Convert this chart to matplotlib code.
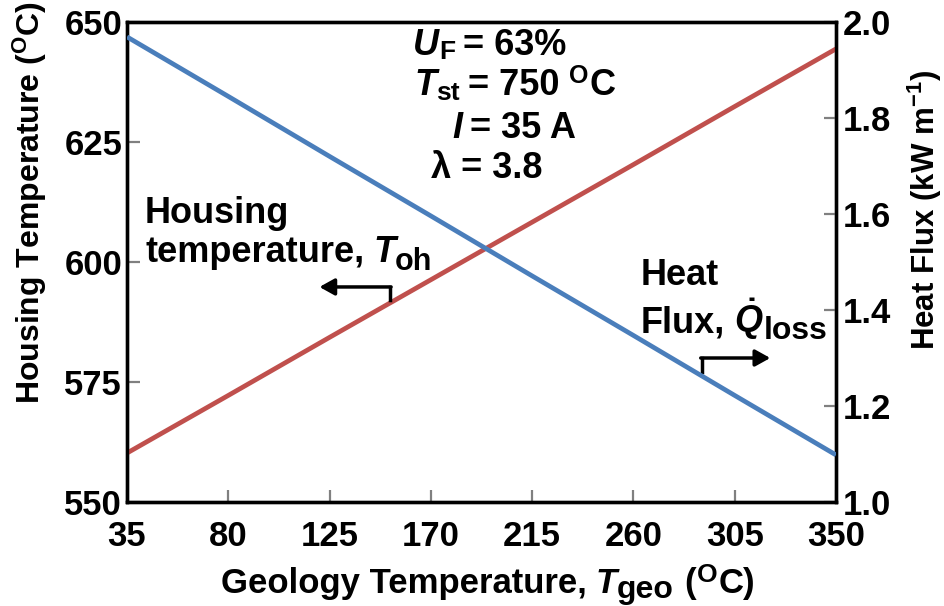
import matplotlib
matplotlib.use("Agg")
import matplotlib.pyplot as plt
from matplotlib.transforms import Affine2D

plt.rcParams['font.family'] = ['Liberation Sans', 'DejaVu Sans']
plt.rcParams['font.weight'] = 'bold'
plt.rcParams['mathtext.fontset'] = 'custom'
plt.rcParams['mathtext.rm'] = 'Liberation Sans:bold'
plt.rcParams['mathtext.it'] = 'Liberation Sans:bold:italic'
plt.rcParams['mathtext.bf'] = 'Liberation Sans:bold'

# Geology temperature (°C)
geo_temp = [35, 80, 125, 170, 215, 260, 305, 350]
# Housing temperature T_oh (°C), left axis
housing_temp = [560.2, 572.2, 584.3, 596.3, 608.3, 620.3, 632.4, 644.4]
# Heat flux Q_loss (kW m^-1), right axis
heat_flux = [1.969, 1.845, 1.720, 1.596, 1.471, 1.347, 1.222, 1.098]

x_ticks = [35, 80, 125, 170, 215, 260, 305, 350]
left_ticks = [550, 575, 600, 625, 650]
right_ticks = [1.0, 1.2, 1.4, 1.6, 1.8, 2.0]

RED = '#C0504D'
BLUE = '#4A7EBB'
W, H = 945, 606
FS_TICK = 25
FS_LAB = 25
FS_TXT = 26
FS_SUB = 22

fig = plt.figure(figsize=(W / 100, H / 100), dpi=100)
ax = fig.add_axes([127 / W, 1 - 502 / H, 709 / W, 480 / H])
ax2 = ax.twinx()

ax.plot(geo_temp, housing_temp, color=RED, lw=3.4, solid_capstyle='butt', zorder=3)
ax2.plot(geo_temp, heat_flux, color=BLUE, lw=3.4, solid_capstyle='butt', zorder=3)

ax.set_xlim(35, 350)
ax.set_ylim(550, 650)
ax2.set_ylim(1.0, 2.0)
ax.set_xticks(x_ticks)
ax.set_yticks(left_ticks)
ax2.set_yticks(right_ticks)
ax2.set_yticklabels([f"{v:.1f}" for v in right_ticks])

for a in (ax, ax2):
    for s in a.spines.values():
        s.set_linewidth(2.4)
        s.set_color('black')
    a.tick_params(direction='in', length=9, width=1.6, color='#808080',
                  labelsize=FS_TICK, pad=3.5)
ax.tick_params(axis='x', pad=13)
ax.tick_params(top=False, right=False)
ax2.tick_params(left=False, pad=5)
for lab in ax.get_xticklabels() + ax.get_yticklabels() + ax2.get_yticklabels():
    lab.set_fontweight('bold')

# pixel coordinates measured from the top-left corner of the figure
PX = Affine2D().scale(1, -1).translate(0, H)
renderer = fig.canvas.get_renderer()


def rich(x, y, parts, ha='left'):
    """Draw a run of text pieces on one baseline.
    Each piece: (text, size, style, drop_px, gap_px_after)."""
    items = []
    for p in parts:
        s, size = p[0], p[1]
        style = p[2] if len(p) > 2 else 'normal'
        dy = p[3] if len(p) > 3 else 0
        gap = p[4] if len(p) > 4 else 0
        t = fig.text(0, 0, s, fontsize=size, style=style, fontweight='bold',
                     transform=PX, ha='left', va='baseline')
        w = t.get_window_extent(renderer).width
        items.append((t, w, dy, gap))
    total = sum(w + g for _, w, _, g in items)
    off = x - total / 2 if ha == 'center' else x
    for t, w, dy, gap in items:
        t.set_position((off, y + dy))
        off += w + gap


# axis titles
rich(488, 593, [("Geology Temperature,", FS_LAB, 'normal', 0, 9),
                ("T", FS_LAB, 'italic', 0, 0),
                ("geo", 23, 'normal', 5, 10),
                ("(", FS_LAB, 'normal', 0, 1),
                ("O", 19, 'normal', -11, 1),
                ("C)", FS_LAB)], ha='center')
fig.text(30, 202, r"Housing Temperature ($^{\mathrm{O}}$C)", transform=PX,
         rotation=90, ha='center', va='center', fontsize=23, fontweight='bold')
fig.text(925, 210, r"Heat Flux (kW m$^{-1}$)", transform=PX,
         rotation=90, ha='center', va='center', fontsize=22.5, fontweight='bold')

# operating conditions
rich(413, 55, [("U", FS_TXT, 'italic'), ("F", 19, 'normal', 4, 8), ("= 63%", FS_TXT)])
rich(414, 95, [("T", FS_TXT, 'italic'), ("st", 19, 'normal', 5, 8),
               ("= 750", FS_TXT, 'normal', 0, 10), ("O", 18, 'normal', -12, 1),
               ("C", FS_TXT)])
rich(452, 138, [("I", FS_TXT, 'italic', 0, 8), ("= 35 A", FS_TXT)])
rich(431, 178, [("λ = 3.8", FS_TXT)])

# series labels
rich(145, 223, [("Housing", FS_TXT)])
rich(145, 262, [("temperature,", FS_TXT, 'normal', 0, 9),
                ("T", FS_TXT, 'italic'), ("oh", FS_SUB, 'normal', 8)])
rich(641, 285, [("Heat", FS_TXT)])
rich(641, 332, [("Flux,", FS_TXT, 'normal', 0, 9),
                (r"$\dot{\mathit{Q}}$", FS_TXT), ("loss", 23, 'normal', 7)])

# pointer arrows to the matching axes
arrow = dict(arrowstyle='-|>,head_length=0.9,head_width=0.5',
             color='black', lw=2.5, shrinkA=0, shrinkB=0)
ax.plot([151.8, 151.8], [592.0, 594.8], color='black', lw=2.5, zorder=4)
ax.annotate("", xy=(120.5, 594.8), xytext=(152.3, 594.8), arrowprops=arrow)
ax.plot([290.4, 290.4], [577.0, 580.0], color='black', lw=2.5, zorder=4)
ax.annotate("", xy=(320.8, 580.0), xytext=(289.9, 580.0), arrowprops=arrow)

fig.savefig("out.png", dpi=100)
